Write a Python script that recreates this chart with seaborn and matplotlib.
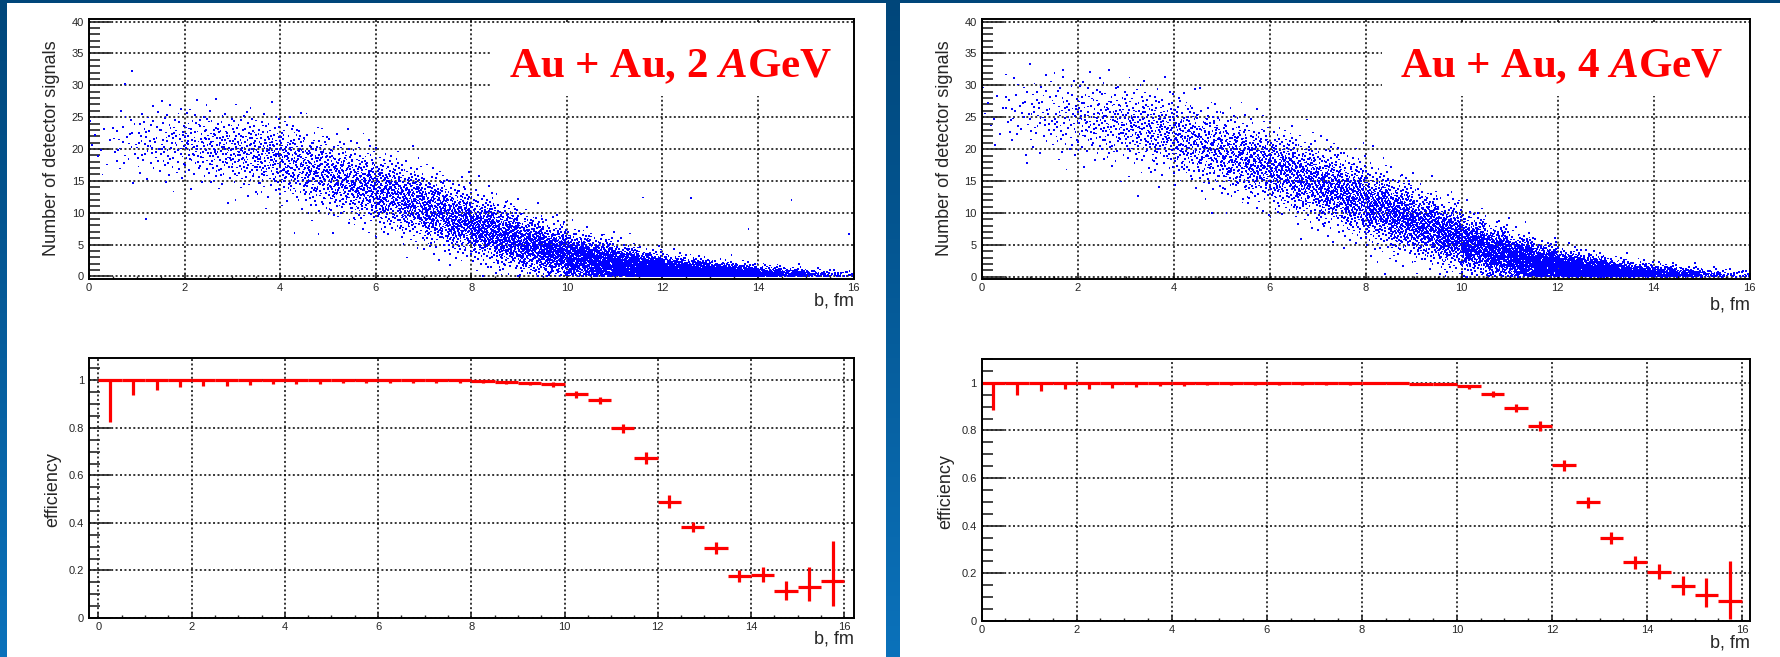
import matplotlib
matplotlib.use('Agg')
import matplotlib.pyplot as plt
from matplotlib import font_manager
from matplotlib.patches import Rectangle
from matplotlib.ticker import MultipleLocator, FuncFormatter
from statistics import NormalDist
import numpy as np
import pandas as pd
import seaborn as sns

# ---- data ----
# scatter clouds: 0.5 fm bins of b, with estimated event count, mean and spread of signals
bin_lo = [0.0, 0.5, 1.0, 1.5, 2.0, 2.5, 3.0, 3.5, 4.0, 4.5, 5.0, 5.5, 6.0, 6.5, 7.0, 7.5,
          8.0, 8.5, 9.0, 9.5, 10.0, 10.5, 11.0, 11.5, 12.0, 12.5, 13.0, 13.5, 14.0, 14.5, 15.0, 15.5]
counts = [9, 26, 43, 60, 77, 94, 110, 128, 145, 162, 178, 195, 212, 230, 246, 264,
          280, 298, 315, 332, 348, 365, 382, 400, 390, 355, 290, 215, 145, 95, 52, 22]

mean_2 = [21.0, 21.0, 21.0, 21.0, 20.7, 20.2, 19.6, 19.0, 18.0, 16.6, 15.3, 14.2, 13.0, 11.7, 10.2, 8.8,
          7.5, 6.2, 4.9, 3.9, 3.0, 2.3, 1.6, 1.1, 0.75, 0.55, 0.4, 0.3, 0.25, 0.2, 0.15, 0.1]
sd_2 = [2.8, 2.8, 2.9, 2.9, 2.9, 2.9, 3.0, 3.0, 3.0, 3.0, 2.9, 2.9, 2.8, 2.8, 2.7, 2.6,
        2.5, 2.4, 2.2, 2.0, 1.85, 1.7, 1.5, 1.3, 1.15, 1.0, 0.9, 0.8, 0.7, 0.6, 0.5, 0.45]

mean_4 = [26.0, 25.8, 25.5, 25.0, 24.6, 24.2, 23.6, 22.7, 21.5, 20.3, 19.0, 17.8, 16.6, 15.3, 13.9, 12.4,
          10.9, 9.4, 7.9, 6.4, 5.0, 3.8, 2.8, 2.0, 1.4, 1.0, 0.7, 0.5, 0.35, 0.25, 0.2, 0.15]
sd_4 = [3.0, 3.0, 3.1, 3.1, 3.1, 3.1, 3.1, 3.1, 3.1, 3.1, 3.1, 3.0, 3.0, 3.0, 3.0, 2.95,
        2.9, 2.8, 2.6, 2.4, 2.2, 1.95, 1.7, 1.45, 1.25, 1.1, 0.95, 0.85, 0.75, 0.65, 0.55, 0.5]

# isolated points
out_b_2 = [0.9, 0.75, 1.2, 4.3, 11.6, 12.6, 13.8, 14.7, 15.9]
out_n_2 = [32.2, 30.2, 9.0, 6.8, 12.4, 12.3, 7.5, 12.0, 6.7]
out_b_4 = [1.0, 0.5, 3.25, 0.95, 1.7]
out_n_4 = [33.3, 31.7, 12.7, 17.8, 32.4]

# efficiency vs b (bin centres, value, lower / upper error)
eff_b = [0.25, 0.75, 1.25, 1.75, 2.25, 2.75, 3.25, 3.75, 4.25, 4.75, 5.25, 5.75, 6.25, 6.75, 7.25, 7.75,
         8.25, 8.75, 9.25, 9.75, 10.25, 10.75, 11.25, 11.75, 12.25, 12.75, 13.25, 13.75, 14.25, 14.75, 15.25, 15.75]

eff_2 = [1, 1, 1, 1, 1, 1, 1, 1, 1, 1, 1, 1, 1, 1, 1, 1,
         0.996, 0.993, 0.990, 0.985, 0.941, 0.916, 0.799, 0.674, 0.490, 0.383, 0.294, 0.176, 0.180, 0.112, 0.131, 0.154]
lo_2 = [0.175, 0.063, 0.039, 0.028, 0.024, 0.022, 0.020, 0.017, 0.015, 0.014, 0.013, 0.012, 0.012, 0.011, 0.011, 0.010,
        0.006, 0.007, 0.008, 0.013, 0.017, 0.017, 0.019, 0.028, 0.026, 0.022, 0.024, 0.025, 0.029, 0.035, 0.058, 0.105]
hi_2 = [0, 0, 0, 0, 0, 0, 0, 0, 0, 0, 0, 0, 0, 0, 0, 0,
        0.003, 0.004, 0.005, 0.007, 0.013, 0.014, 0.019, 0.023, 0.026, 0.023, 0.026, 0.027, 0.033, 0.042, 0.083, 0.172]

eff_4 = [1, 1, 1, 1, 1, 1, 1, 1, 1, 1, 1, 1, 1, 1, 1, 1, 1, 1,
         0.997, 0.997, 0.986, 0.955, 0.894, 0.818, 0.653, 0.498, 0.347, 0.246, 0.207, 0.147, 0.109, 0.084]
lo_4 = [0.115, 0.052, 0.035, 0.024, 0.024, 0.021, 0.017, 0.014, 0.012, 0.011, 0.010, 0.010, 0.009, 0.009, 0.008, 0.008, 0.007, 0.007,
        0.006, 0.006, 0.010, 0.015, 0.018, 0.019, 0.025, 0.025, 0.025, 0.028, 0.029, 0.039, 0.052, 0.074]
hi_4 = [0, 0, 0, 0, 0, 0, 0, 0, 0, 0, 0, 0, 0, 0, 0, 0, 0, 0,
        0.002, 0.002, 0.006, 0.011, 0.015, 0.023, 0.025, 0.024, 0.026, 0.027, 0.031, 0.042, 0.070, 0.169]

titles = ['Au + Au, 2 $A$GeV', 'Au + Au, 4 $A$GeV']


def halton(i, base):
    f, r = 1.0, 0.0
    while i > 0:
        f /= base
        r += f * (i % base)
        i //= base
    return r


def cloud(means, sds, out_b, out_n):
    # spread each bin's events evenly (low-discrepancy) over its estimated mean / spread
    nd = NormalDist()
    bs, ns = [], []
    k = 1
    for lo, n, m, s in zip(bin_lo, counts, means, sds):
        for _ in range(n):
            u, v = halton(k, 2), halton(k, 3)
            k += 1
            v = min(max(v, 1e-4), 1 - 1e-4)
            bs.append(lo + 0.5 * u)
            ns.append(abs(m + s * nd.inv_cdf(v)))
    bs += out_b
    ns += out_n
    return pd.DataFrame({'b': bs, 'signals': ns})


sns.set_style('ticks')


def has_font(name):
    try:
        font_manager.findfont(name, fallback_to_default=False)
        return True
    except Exception:
        return False


label_font = 'Liberation Sans' if has_font('Liberation Sans') else 'DejaVu Sans'
tick_font = 'Liberation Sans Narrow' if has_font('Liberation Sans Narrow') else label_font
title_font = 'Liberation Serif' if has_font('Liberation Serif') else 'DejaVu Serif'
plt.rcParams['font.family'] = [label_font, 'DejaVu Sans']
plt.rcParams['mathtext.fontset'] = 'custom'
plt.rcParams['mathtext.rm'] = title_font + ':bold'
plt.rcParams['mathtext.it'] = title_font + ':italic:bold'

W, H = 1780, 657
fig = plt.figure(figsize=(W / 100, H / 100), dpi=100)


def rect(l, t, r, b):
    return [l / W, 1 - b / H, (r - l) / W, (b - t) / H]


# slide background
bg = fig.add_axes([0, 0, 1, 1], zorder=-10)
grad = np.linspace(0, 1, 256)[:, None]
c_top = np.array([0x00, 0x46, 0x7a]) / 255
c_bot = np.array([0x0b, 0x72, 0xbb]) / 255
img = c_top[None, None, :] * (1 - grad[:, :, None]) + c_bot[None, None, :] * grad[:, :, None]
bg.imshow(img, extent=(0, 1, 0, 1), aspect='auto', origin='upper')
bg.add_patch(Rectangle((7 / W, 0), (886 - 7) / W, (H - 3) / H, color='white', lw=0))
bg.add_patch(Rectangle((900 / W, 0), (W - 900) / W, (H - 3) / H, color='white', lw=0))
bg.set_xlim(0, 1)
bg.set_ylim(0, 1)
bg.axis('off')

grid_kw = dict(color='black', linestyle=(0, (1.3, 1.6)), linewidth=1.1)


def style_axes(ax, ymajor, yminor, yfmt):
    ax.set_axisbelow(True)
    ax.grid(True, which='major', **grid_kw)
    ax.xaxis.set_major_locator(MultipleLocator(2))
    ax.xaxis.set_minor_locator(MultipleLocator(0.5))
    ax.yaxis.set_major_locator(MultipleLocator(ymajor))
    ax.yaxis.set_minor_locator(MultipleLocator(yminor))
    ax.yaxis.set_major_formatter(FuncFormatter(yfmt))
    ax.xaxis.set_major_formatter(FuncFormatter(lambda v, p: f'{v:g}'))
    ax.tick_params(axis='y', which='major', direction='in', length=16, width=1.2, pad=3.5,
                   labelsize=8, left=True, right=False)
    ax.tick_params(axis='y', which='minor', direction='in', length=8, width=1.2, left=True, right=False)
    ax.tick_params(axis='x', which='major', direction='in', length=4.5, width=1.2, pad=3,
                   labelsize=8, bottom=True, top=False)
    ax.tick_params(axis='x', which='minor', direction='in', length=2.3, width=1.0, bottom=True, top=False)
    for lab in ax.get_xticklabels() + ax.get_yticklabels():
        lab.set_family(tick_font)
    for sp in ax.spines.values():
        sp.set_visible(True)
        sp.set_linewidth(1.4)
        sp.set_color('black')
        sp.set_zorder(5)
    ax.set_xlabel('')
    ax.set_ylabel('')


panels = [
    dict(top=(89, 19, 853.6, 279), bot=(89, 358, 853.6, 618), bxlim=(-0.2, 16.2), bylim=(0, 1.094),
         means=mean_2, sds=sd_2, ob=out_b_2, on=out_n_2, eff=eff_2, lo=lo_2, hi=hi_2,
         box_x=8.43, ttl_x=12.18, ylab_x=52, ylab_x2=53, bfm_top=305, bfm_bot=643),
    dict(top=(981.6, 19, 1749.7, 279.3), bot=(981.6, 359, 1749.7, 621), bxlim=(0, 16.16), bylim=(0, 1.1),
         means=mean_4, sds=sd_4, ob=out_b_4, on=out_n_4, eff=eff_4, lo=lo_4, hi=hi_4,
         box_x=8.34, ttl_x=12.09, ylab_x=944, ylab_x2=946, bfm_top=310, bfm_bot=648),
]

for p, title in zip(panels, titles):
    # scatter plot
    ax = fig.add_axes(rect(*p['top']))
    df = cloud(p['means'], p['sds'], p['ob'], p['on'])
    sns.scatterplot(data=df, x='b', y='signals', ax=ax, color='#0000ff', marker='s',
                    s=1.7, linewidth=0, edgecolor='none', legend=False, zorder=3)
    ax.set_xlim(0, 16)
    ax.set_ylim(-0.4, 40.4)
    style_axes(ax, 5, 1, lambda v, q: f'{v:g}')
    ax.add_patch(Rectangle((p['box_x'], 28.3), 16 - p['box_x'], 11.3, facecolor='white',
                           edgecolor='none', zorder=1))
    ax.text(p['ttl_x'], 31.2, title, ha='center', va='baseline', color='#ff0000',
            fontsize=31, family=title_font, fontweight='bold', zorder=4)
    l, t, r, b = p['top']
    fig.text(p['ylab_x'] / W, 1 - 148.5 / H, 'Number of detector signals', rotation=90,
             ha='center', va='center', fontsize=13)
    fig.text(r / W, 1 - p['bfm_top'] / H, 'b, fm', ha='right', va='baseline', fontsize=13)

    # efficiency plot
    ax2 = fig.add_axes(rect(*p['bot']))
    ax2.errorbar(eff_b, p['eff'], xerr=0.25, yerr=[p['lo'], p['hi']], fmt='none',
                 ecolor='#ff0000', elinewidth=2.3, capsize=0, zorder=3)
    ax2.set_xlim(*p['bxlim'])
    ax2.set_ylim(*p['bylim'])
    style_axes(ax2, 0.2, 0.05, lambda v, q: f'{v:.1f}'.rstrip('0').rstrip('.') if v else '0')
    l, t, r, b = p['bot']
    fig.text(p['ylab_x2'] / W, 1 - ((t + b) / 2 + 2) / H, 'efficiency', rotation=90,
             ha='center', va='center', fontsize=13)
    fig.text(r / W, 1 - p['bfm_bot'] / H, 'b, fm', ha='right', va='baseline', fontsize=13)

fig.savefig('out.png', dpi=100)
